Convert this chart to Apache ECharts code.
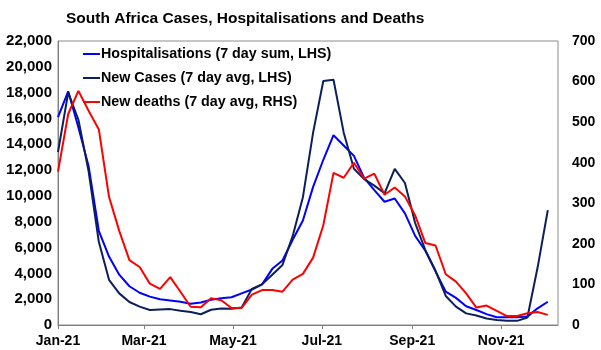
<!DOCTYPE html>
<html><head><meta charset="utf-8">
<script src="https://cdn.jsdelivr.net/npm/echarts@6/dist/echarts.min.js"></script>
<style>html,body{margin:0;padding:0;background:#fff}#c{width:601px;height:350px}</style>
</head><body><div id="c"></div>
<script>
const dates = ['2021-01-01','2021-01-08','2021-01-15','2021-01-22','2021-01-29','2021-02-05','2021-02-12','2021-02-19','2021-02-26',
  '2021-03-05','2021-03-12','2021-03-19','2021-03-26','2021-04-02','2021-04-09','2021-04-16','2021-04-23','2021-04-30',
  '2021-05-07','2021-05-14','2021-05-21','2021-05-28','2021-06-04','2021-06-11','2021-06-18','2021-06-25',
  '2021-07-02','2021-07-09','2021-07-16','2021-07-23','2021-07-30','2021-08-06','2021-08-13','2021-08-20','2021-08-27',
  '2021-09-03','2021-09-10','2021-09-17','2021-09-24','2021-10-01','2021-10-08','2021-10-15','2021-10-22','2021-10-29',
  '2021-11-05','2021-11-12','2021-11-19','2021-11-26','2021-12-03'];
const hospitalisations = [16100,18100,15300,12300,7300,5300,3900,3000,2500,2200,2000,1900,1800,1650,1750,1950,2080,2150,
  2450,2750,3150,4350,5000,6600,8100,10700,12800,14700,13900,13100,11400,10450,9550,9800,8650,6900,5750,4150,
  2580,2100,1450,1160,840,600,600,600,650,1290,1800];
const newCases = [13400,18000,15900,11900,6450,3500,2450,1780,1420,1160,1200,1230,1100,1000,830,1180,1280,1260,
  1350,2800,3150,3900,4650,6900,9900,14900,18900,19000,14900,12100,11300,10800,10200,12100,11000,7900,5800,4200,
  2250,1420,900,740,500,390,320,320,580,4450,8900];
const newDeaths = [378,520,577,528,482,316,232,160,143,102,89,118,82,45,44,66,61,42,42,75,86,86,82,112,126,166,246,375,
  363,400,361,373,321,339,317,270,202,196,125,107,78,43,48,35,22,22,29,32,25];
const tickDates = ['2021-01-01','2021-03-01','2021-05-01','2021-07-01','2021-09-01','2021-11-01'];
const tickLabels = ['Jan-21','Mar-21','May-21','Jul-21','Sep-21','Nov-21'];
const axisEnd = '2021-12-10';
const seriesNames = ['Hospitalisations (7 day sum, LHS)','New Cases (7 day avg, LHS)','New deaths (7 day avg, RHS)'];

const base = Date.parse('2021-01-01T00:00:00Z');
const day = s => Math.round((Date.parse(s + 'T00:00:00Z') - base) / 86400000);
const tickDays = tickDates.map(day);
const pairs = arr => arr.map((v, i) => [day(dates[i]), v]);
const font = '"Liberation Sans", Arial, sans-serif';

const chart = echarts.init(document.getElementById('c'), null, {renderer: 'canvas'});
chart.setOption({
  animation: false,
  backgroundColor: '#fff',
  title: {
    text: 'South Africa Cases, Hospitalisations and Deaths',
    left: 66, top: 11, padding: 0,
    textStyle: {fontFamily: font, fontSize: 15.5, fontWeight: 'bold', color: '#000'}
  },
  legend: {
    orient: 'vertical', left: 78, top: 42, itemGap: 10,
    icon: 'rect', itemWidth: 17, itemHeight: 2,
    data: seriesNames,
    textStyle: {fontFamily: font, fontSize: 14.3, fontWeight: 'bold', color: '#000', padding: [0, 0, 0, -4]}
  },
  grid: {left: 58, right: 43, top: 41, bottom: 25, show: true, borderColor: '#8c8c8c', borderWidth: 1},
  xAxis: {
    type: 'value', min: 0, max: day(axisEnd),
    axisLine: {show: true, lineStyle: {color: '#808080', width: 1}},
    axisTick: {show: true, length: 4, customValues: tickDays, lineStyle: {color: '#808080'}},
    axisLabel: {
      customValues: tickDays, margin: 9,
      formatter: v => tickLabels[tickDays.indexOf(Math.round(v))] || '',
      fontFamily: font, fontSize: 14, fontWeight: 'bold', color: '#000'
    },
    splitLine: {show: false}
  },
  yAxis: [
    {
      type: 'value', min: 0, max: 22000, interval: 2000,
      axisLine: {show: true, lineStyle: {color: '#808080'}},
      axisTick: {show: false},
      axisLabel: {formatter: v => v.toLocaleString('en-US'), margin: 6,
        fontFamily: font, fontSize: 15, fontWeight: 'bold', color: '#000'},
      splitLine: {show: false}
    },
    {
      type: 'value', min: 0, max: 700, interval: 100, position: 'right',
      axisLine: {show: false}, axisTick: {show: false},
      axisLabel: {margin: 14, fontFamily: font, fontSize: 14, fontWeight: 'bold', color: '#000'},
      splitLine: {show: false}
    }
  ],
  series: [
    {name: seriesNames[0], type: 'line', yAxisIndex: 0, data: pairs(hospitalisations), showSymbol: false, symbol: 'none',
      itemStyle: {color: '#0000ff'}, lineStyle: {color: '#0000ff', width: 2}},
    {name: seriesNames[1], type: 'line', yAxisIndex: 0, data: pairs(newCases), showSymbol: false, symbol: 'none',
      itemStyle: {color: '#0b1f5c'}, lineStyle: {color: '#0b1f5c', width: 2}},
    {name: seriesNames[2], type: 'line', yAxisIndex: 1, data: pairs(newDeaths), showSymbol: false, symbol: 'none',
      itemStyle: {color: '#ff0000'}, lineStyle: {color: '#ff0000', width: 2}}
  ]
});
</script></body></html>
